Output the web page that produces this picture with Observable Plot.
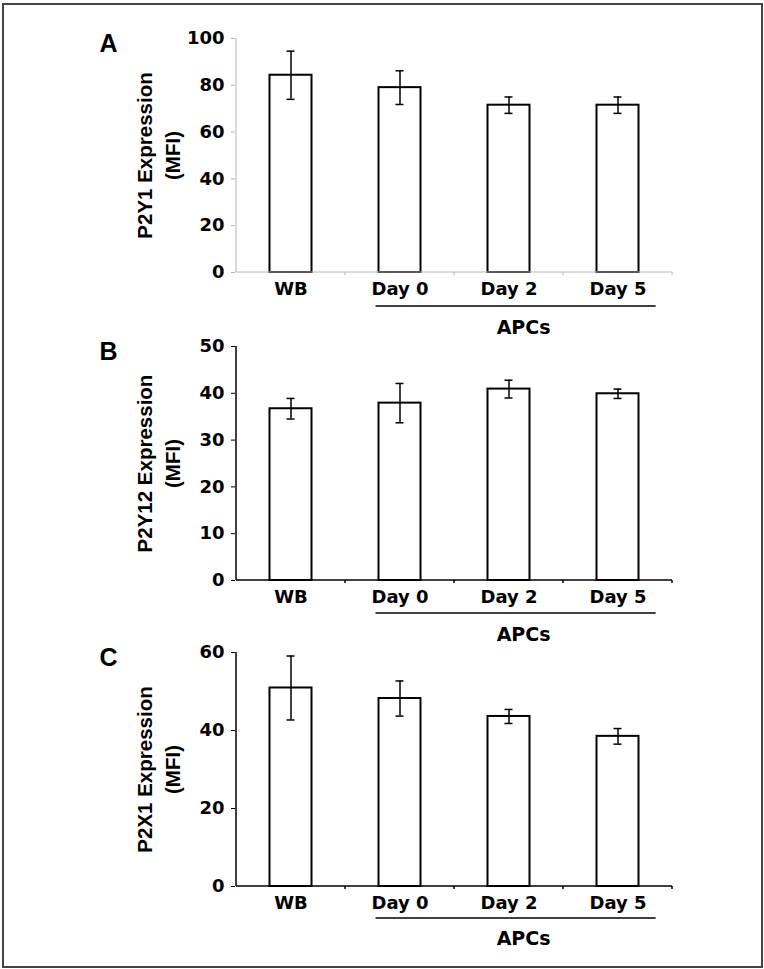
<!DOCTYPE html>
<html>
<head>
<meta charset="utf-8">
<script src="https://cdn.jsdelivr.net/npm/d3@7"></script>
<script src="https://cdn.jsdelivr.net/npm/@observablehq/plot@0.6"></script>
<style>
  html, body { margin: 0; padding: 0; background: #fff; }
  #fig { position: relative; width: 764px; height: 969px; overflow: hidden; background: #fff; }
  #frame { position: absolute; left: 2px; top: 3px; width: 761px; height: 965px; box-sizing: border-box; border: 2px solid #444; }
  .panel { position: absolute; left: 0; }
</style>
</head>
<body>
<div id="fig">
  <div id="frame"></div>
  <div class="panel" id="pA"></div>
  <div class="panel" id="pB"></div>
  <div class="panel" id="pC"></div>
</div>
<script>
// ---- data ----
const categories = ["WB", "Day 0", "Day 2", "Day 5"];
const apcGroup = ["Day 0", "Day 2", "Day 5"];
const groupLabel = "APCs";

const p2y1Mean = [84.3, 79.0, 71.5, 71.5];
const p2y1Err  = [10.3, 7.2, 3.5, 3.5];
const p2y1Ticks = [0, 20, 40, 60, 80, 100];

const p2y12Mean = [36.7, 37.9, 40.9, 39.9];
const p2y12Err  = [2.2, 4.2, 1.9, 1.0];
const p2y12Ticks = [0, 10, 20, 30, 40, 50];

const p2x1Mean = [50.9, 48.2, 43.6, 38.5];
const p2x1Err  = [8.2, 4.5, 1.8, 2.0];
const p2x1Ticks = [0, 20, 40, 60];

const panelLetters = ["A", "B", "C"];
const yTitles = ["P2Y1 Expression", "P2Y12 Expression", "P2X1 Expression"];
const yUnit = "(MFI)";

// ---- layout ----
const W = 764;
const ML = 235, MR = 91, MT = 38, PH = 234, MB = 76;
const tickFont = "'DejaVu Sans', sans-serif";
const titleFont = "'Liberation Sans', Arial, sans-serif";
const tickSize = 18;

function frameMark(color, sw) {
  return (index, scales) => {
    const x = scales.x, y = scales.y, bw = x.bandwidth();
    const [d0, d1] = y.domain();
    const y0 = y(d0), yTop = y(d1);
    const xl = x(categories[0]), xr = x(categories[categories.length - 1]) + bw;
    const g = d3.create("svg:g").attr("stroke", color).attr("stroke-width", sw).attr("fill", "none");
    g.append("line").attr("x1", xl).attr("x2", xl).attr("y1", yTop).attr("y2", y0);
    g.append("line").attr("x1", xl).attr("x2", xr).attr("y1", y0).attr("y2", y0);
    for (const c of categories) {
      const xe = x(c) + bw;
      g.append("line").attr("x1", xe).attr("x2", xe).attr("y1", y0).attr("y2", y0 + 3);
    }
    return g.node();
  };
}

function bracketMark(lineOff, textOff) {
  return (index, scales) => {
    const x = scales.x, y = scales.y, bw = x.bandwidth();
    const y0 = y(y.domain()[0]);
    const x1 = x(apcGroup[0]) + bw * 0.28;
    const x2 = x(apcGroup[apcGroup.length - 1]) + bw * 0.85;
    const g = d3.create("svg:g");
    g.append("line").attr("x1", x1).attr("x2", x2).attr("y1", y0 + lineOff).attr("y2", y0 + lineOff)
      .attr("stroke", "#000").attr("stroke-width", 1.5);
    g.append("text").attr("x", (x1 + x2) / 2 + 8).attr("y", y0 + textOff).attr("dy", "0.36em")
      .attr("text-anchor", "middle").attr("font-family", tickFont).attr("font-weight", "bold")
      .attr("font-size", 19).attr("fill", "#000").text(groupLabel);
    return g.node();
  };
}

function panel(el, top, i, means, errs, ticks, axisColor, axisSW, lineOff, textOff) {
  const table = categories.map((c, k) => ({cat: c, mean: means[k], err: errs[k]}));
  const chart = Plot.plot({
    width: W,
    height: MT + PH + MB,
    marginLeft: ML, marginRight: MR, marginTop: MT, marginBottom: MB,
    style: {background: "transparent", overflow: "visible", fontFamily: tickFont, fontWeight: "bold", color: "#000"},
    x: {type: "band", domain: categories, padding: 0, label: null},
    y: {domain: [ticks[0], ticks[ticks.length - 1]], label: null},
    marks: [
      Plot.barY(table, {x: "cat", y: "mean", fill: "white", stroke: "#000", strokeWidth: 2, insetLeft: 33.5, insetRight: 33.5}),
      Plot.ruleX(table, {x: "cat", y1: d => d.mean - d.err, y2: d => d.mean + d.err, stroke: "#000", strokeWidth: 1.5}),
      Plot.tickY(table, {x: "cat", y: d => d.mean + d.err, stroke: "#000", strokeWidth: 1.5, insetLeft: 50.5, insetRight: 50.5}),
      Plot.tickY(table, {x: "cat", y: d => d.mean - d.err, stroke: "#000", strokeWidth: 1.5, insetLeft: 50.5, insetRight: 50.5}),
      frameMark(axisColor, axisSW),
      Plot.axisY(ticks, {tickSize: 4, tickPadding: 7, stroke: axisColor, fontSize: tickSize, fontWeight: "bold", fontFamily: tickFont, label: null}),
      Plot.axisX({tickSize: 0, tickPadding: 10, fontSize: tickSize, fontWeight: "bold", fontFamily: tickFont, label: null}),
      bracketMark(lineOff, textOff),
      Plot.text([panelLetters[i]], {frameAnchor: "top-left", dx: -136, dy: 5, textAnchor: "start", lineAnchor: "middle",
        fontSize: 25, fontWeight: "bold", fontFamily: titleFont, fill: "#000"}),
      Plot.text([yTitles[i]], {frameAnchor: "left", dx: -90, rotate: -90, textAnchor: "middle", lineAnchor: "middle",
        fontSize: 20.5, fontWeight: "bold", fontFamily: titleFont, fill: "#000"}),
      Plot.text([yUnit], {frameAnchor: "left", dx: -62, rotate: -90, textAnchor: "middle", lineAnchor: "middle",
        fontSize: 20.5, fontWeight: "bold", fontFamily: titleFont, fill: "#000"})
    ]
  });
  const host = document.getElementById(el);
  host.style.top = top + "px";
  host.appendChild(chart);
}

panel("pA", 0,   0, p2y1Mean,  p2y1Err,  p2y1Ticks,  "#b4b4b4", 1,   34, 55);
panel("pB", 308, 1, p2y12Mean, p2y12Err, p2y12Ticks, "#000",    1.5, 33, 54);
panel("pC", 614, 2, p2x1Mean,  p2x1Err,  p2x1Ticks,  "#000",    1.5, 32, 52);
</script>
</body>
</html>
